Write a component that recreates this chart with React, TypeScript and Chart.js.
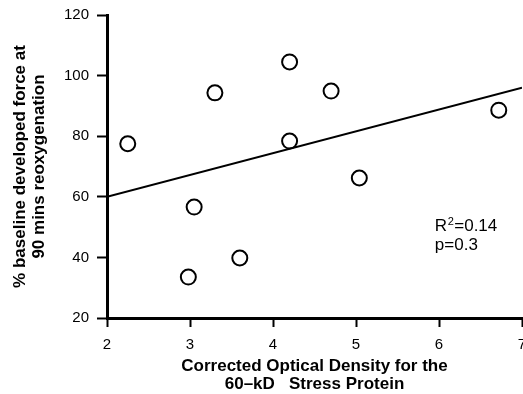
import React, { useEffect, useRef } from "react";
import { Chart, registerables } from "chart.js";

Chart.register(...registerables);

// ---- data ----
const scatterX = [2.25, 3.3, 4.2, 4.7, 6.72, 4.2, 5.04, 3.05, 2.98, 3.6];
const scatterY = [77.5, 94.3, 104.5, 94.9, 88.6, 78.4, 66.2, 56.6, 33.5, 39.8];
const fitX = [2, 7];
const fitY = [60, 96];
const xTickValues = [2, 3, 4, 5, 6, 7];
const yTickValues = [20, 40, 60, 80, 100, 120];
const xTitle = ["Corrected Optical Density for the", "60\u2013kD   Stress Protein"];
const yTitle = ["% baseline developed force at", "90 mins reoxygenation"];
const statR2 = "0.14";
const statP = "0.3";
const statAnchor = [5.95, 48.7]; // data coordinates of annotation

const FONT = '"Liberation Sans", Arial, Helvetica, sans-serif';

const annotationPlugin = {
  id: "statsText",
  afterDraw(chart: any) {
    const { ctx, scales } = chart;
    const px = scales.x.getPixelForValue(statAnchor[0]);
    const py = scales.y.getPixelForValue(statAnchor[1]);
    ctx.save();
    ctx.fillStyle = "#000";
    ctx.textBaseline = "alphabetic";
    ctx.textAlign = "left";
    ctx.font = `17px ${FONT}`;
    ctx.fillText("R", px, py);
    const wR = ctx.measureText("R").width;
    ctx.font = `11px ${FONT}`;
    ctx.fillText("2", px + wR + 0.5, py - 6);
    const w2 = ctx.measureText("2").width;
    ctx.font = `17px ${FONT}`;
    ctx.fillText("=" + statR2, px + wR + w2 + 1, py);
    ctx.fillText("p=" + statP, px, py + 19);
    ctx.restore();
  },
};

export default function App() {
  const ref = useRef<HTMLCanvasElement | null>(null);

  useEffect(() => {
    if (!ref.current) return;
    const chart = new Chart(ref.current, {
      type: "scatter",
      data: {
        datasets: [
          {
            type: "line",
            data: fitX.map((x, i) => ({ x, y: fitY[i] })),
            borderColor: "#000",
            borderWidth: 2,
            pointRadius: 0,
            fill: false,
            tension: 0,
          } as any,
          {
            data: scatterX.map((x, i) => ({ x, y: scatterY[i] })),
            pointStyle: "circle",
            pointRadius: 7.5,
            pointBorderWidth: 2,
            pointBorderColor: "#000",
            pointBackgroundColor: "#fff",
            borderColor: "#000",
            backgroundColor: "#fff",
          },
        ],
      },
      options: {
        responsive: false,
        animation: false,
        devicePixelRatio: 1,
        layout: { autoPadding: false, padding: { left: 0, right: 1, top: 15, bottom: 0 } },
        plugins: {
          legend: { display: false },
          tooltip: { enabled: false },
        },
        scales: {
          x: {
            type: "linear",
            min: 2,
            max: 7,
            afterBuildTicks: (s: any) => {
              s.ticks = xTickValues.map((v) => ({ value: v }));
            },
            afterFit: (s: any) => {
              s.height = 76;
              s.paddingLeft = 0;
              s.paddingRight = 0;
            },
            border: { display: true, color: "#000", width: 3 },
            grid: {
              display: true,
              drawOnChartArea: false,
              drawTicks: true,
              tickLength: 9,
              tickWidth: 2,
              tickColor: "#000",
            },
            ticks: {
              color: "#000",
              font: { family: FONT, size: 15 },
              padding: 9,
              maxRotation: 0,
              autoSkip: false,
            },
            title: {
              display: true,
              text: xTitle,
              color: "#000",
              font: { family: FONT, size: 17, weight: "bold", lineHeight: 1.09 },
              padding: { top: 0, bottom: 0 },
            },
          },
          y: {
            type: "linear",
            min: 20,
            max: 120,
            afterBuildTicks: (s: any) => {
              s.ticks = yTickValues.map((v) => ({ value: v }));
            },
            afterFit: (s: any) => {
              s.width = 107;
              s.paddingTop = 0;
              s.paddingBottom = 0;
            },
            border: { display: true, color: "#000", width: 3 },
            grid: {
              display: true,
              drawOnChartArea: false,
              drawTicks: true,
              tickLength: 10,
              tickWidth: 2,
              tickColor: "#000",
            },
            ticks: {
              color: "#000",
              font: { family: FONT, size: 15 },
              padding: 8,
              autoSkip: false,
            },
            title: {
              display: true,
              text: yTitle,
              color: "#000",
              font: { family: FONT, size: 17, weight: "bold", lineHeight: 1.09 },
              padding: { top: 11.5, bottom: 0 },
            },
          },
        },
      } as any,
      plugins: [annotationPlugin],
    });
    return () => chart.destroy();
  }, []);

  return (
    <div style={{ position: "fixed", left: 0, top: 0, width: 523, height: 394, background: "#fff" }}>
      <canvas ref={ref} width={523} height={394} style={{ display: "block" }} />
    </div>
  );
}
